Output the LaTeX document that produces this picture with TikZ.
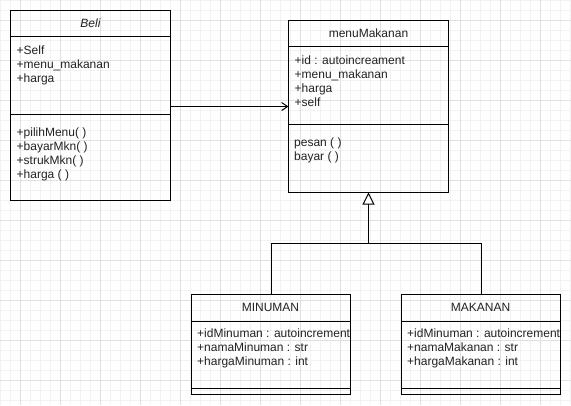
\documentclass[tikz,border=0pt]{standalone}
\usepackage{fontspec}
\setmainfont{Liberation Sans}
\usetikzlibrary{arrows.meta}
\definecolor{gridmajor}{HTML}{E0E0E0}
\definecolor{gridminor}{HTML}{F2F2F2}
\definecolor{txtcol}{HTML}{222222}
\begin{document}
\begin{tikzpicture}[x=1pt,y=-1pt,
  box/.style={draw=black, line width=1pt, rectangle, inner sep=0, outer sep=0, anchor=north west},
  txt/.style={anchor=base west, inner sep=0, font=\fontsize{12}{14}\selectfont, text=txtcol},
  ttl/.style={anchor=base, inner sep=0, font=\fontsize{12}{14}\selectfont, text=txtcol},
  sep/.style={line width=1pt},
  conn/.style={line width=1pt, draw=black}]
\useasboundingbox (0,0) rectangle (571,405);
\fill[white] (0,0) rectangle (571,405);
\foreach \x in {0,10,...,570} \draw[gridminor, line width=1pt] (\x+0.5,0) -- (\x+0.5,405);
\foreach \y in {0,10,...,400} \draw[gridminor, line width=1pt] (0,\y+0.5) -- (571,\y+0.5);
\foreach \x in {20,60,...,570} \draw[gridmajor, line width=1pt] (\x+0.5,0) -- (\x+0.5,405);
\foreach \y in {20,60,...,400} \draw[gridmajor, line width=1pt] (0,\y+0.5) -- (571,\y+0.5);

% Beli
\node[box, minimum width=160, minimum height=190] (beli) at (10.5,10.5) {};
\draw[sep] (10.5,36.5) -- (170.5,36.5);
\draw[sep] (10.5,114.5) -- (170.5,114.5);
\node[ttl, font=\fontsize{12}{14}\selectfont\itshape] (beliT) at (90.5,27.5) {Beli};
\node[txt] (beliA1) at (16.5,54.5) {+Self};
\node[txt] (beliA2) at (16.5,68.5) {+menu\_makanan};
\node[txt] (beliA3) at (16.5,82.5) {+harga};
\node[txt] (beliM1) at (16.5,136.5) {+pilihMenu( )};
\node[txt] (beliM2) at (16.5,150.5) {+bayarMkn( )};
\node[txt] (beliM3) at (16.5,164.5) {+strukMkn( )};
\node[txt] (beliM4) at (16.5,178.5) {+harga ( )};

% menuMakanan
\node[box, minimum width=160, minimum height=172] (menu) at (288.5,20.5) {};
\draw[sep] (288.5,46.5) -- (448.5,46.5);
\draw[sep] (288.5,124.5) -- (448.5,124.5);
\node[ttl] (menuT) at (368.5,37.5) {menuMakanan};
\node[txt] (menuA1) at (294.5,64.5) {+id : autoincreament};
\node[txt] (menuA2) at (294.5,78.5) {+menu\_makanan};
\node[txt] (menuA3) at (294.5,92.5) {+harga};
\node[txt] (menuA4) at (294.5,106.5) {+self};
\node[txt] (menuM1) at (294,146.5) {pesan ( )};
\node[txt] (menuM2) at (294,160.5) {bayar ( )};

% MINUMAN
\node[box, minimum width=159, minimum height=100] (minum) at (191.5,294.5) {};
\draw[sep] (191.5,321.5) -- (350.5,321.5);
\draw[sep] (191.5,388.5) -- (350.5,388.5);
\node[ttl] (minumT) at (270.5,311.5) {MINUMAN};
\node[txt] (minumA1) at (197,337.5) {+idMinuman : autoincrement};
\node[txt] (minumA2) at (197,351.5) {+namaMinuman : str};
\node[txt] (minumA3) at (197,365.5) {+hargaMinuman : int};

% MAKANAN
\node[box, minimum width=159, minimum height=100] (makan) at (401.5,294.5) {};
\draw[sep] (401.5,321.5) -- (560.5,321.5);
\draw[sep] (401.5,388.5) -- (560.5,388.5);
\node[ttl] (makanT) at (480.5,311.5) {MAKANAN};
\node[txt] (makanA1) at (407,337.5) {+idMinuman : autoincrement};
\node[txt] (makanA2) at (407,351.5) {+namaMakanan : str};
\node[txt] (makanA3) at (407,365.5) {+hargaMakanan : int};

% association
\coordinate (assocS) at (170.5,106.5);
\draw[conn, -{Straight Barb[length=6pt, width=8pt, line width=1pt]}] (assocS) -- (assocS -| menu.west);

% generalization
\coordinate (junc) at (menu.south |- 0,243.5);
\draw[conn] (minum.north) |- (junc) -| (makan.north);
\draw[conn, -{Triangle[open, length=12pt, width=12pt, line width=1pt, fill=white]}] (junc) -- (menu.south);
\end{tikzpicture}
\end{document}
